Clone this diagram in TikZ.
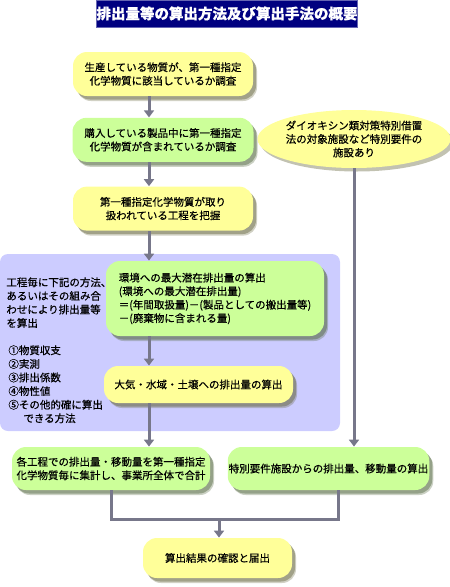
\documentclass[tikz,border=0pt]{standalone}
\usepackage{fontspec}
\setmainfont{Noto Sans CJK JP}[FakeBold=0.5]
\usetikzlibrary{positioning,arrows.meta,shapes.geometric,shadows}
\definecolor{titleblue}{HTML}{000080}
\definecolor{boxyellow}{HTML}{FFFF99}
\definecolor{boxgreen}{HTML}{CCFF99}
\definecolor{panelblue}{HTML}{CCCCFF}
\definecolor{arrowgray}{HTML}{77778A}
\begin{document}
\begin{tikzpicture}[auto, thick, x=1pt, y=-1pt]
% Definition of blocks:
\tikzset{%
  title/.style       = {fill=titleblue, draw=titleblue!60!white, text=white, font=\fontsize{14.5}{16}\selectfont\bfseries, minimum width=248pt, minimum height=27pt, inner sep=0pt},
  block/.style       = {rectangle, rounded corners=14pt, align=center, inner sep=1pt, font=\fontsize{10.5}{13.5}\selectfont},
  yellowblock/.style = {block, fill=boxyellow, drop shadow={shadow xshift=4pt, shadow yshift=-5pt, fill=boxyellow!40!black, opacity=.3}, drop shadow={shadow xshift=3pt, shadow yshift=-3.5pt, fill=boxyellow!40!black, opacity=.45}},
  greenblock/.style  = {block, fill=boxgreen, drop shadow={shadow xshift=4pt, shadow yshift=-5pt, fill=boxgreen!40!black, opacity=.3}, drop shadow={shadow xshift=3pt, shadow yshift=-3.5pt, fill=boxgreen!40!black, opacity=.45}},
  bubble/.style      = {ellipse, fill=boxyellow, inner sep=0pt, align=center, font=\fontsize{10.5}{13.5}\selectfont, minimum width=162pt, minimum height=58pt, drop shadow={shadow xshift=3pt, shadow yshift=-3.5pt, fill=boxyellow!40!black, opacity=.4}},
  panel/.style       = {rectangle, fill=panelblue, rounded corners=8pt, minimum width=340pt, minimum height=177pt},
  note/.style        = {align=left, inner sep=0pt, anchor=north west, font=\fontsize{10.5}{13.6}\selectfont},
  line/.style        = {draw=arrowgray, line width=3pt},
  arrow/.style       = {line, -{Triangle[width=10pt,length=7pt]}}
}
\useasboundingbox (0,0) rectangle (450,587);

\draw
	node [title] (Title) at (227,13.5) {排出量等の算出方法及び算出手法の概要}
	node [yellowblock, minimum width=180pt, minimum height=44pt] (Survey) at (163,74) {生産している物質が、第一種指定\\化学物質に該当しているか調査}
	node [greenblock, minimum width=181pt, minimum height=44pt, below = 21pt of Survey] (Purchase) {購入している製品中に第一種指定\\化学物質が含まれているか調査}
	node [yellowblock, minimum width=180pt, minimum height=44pt, below = 24pt of Purchase] (Process) {第一種指定化学物質が取り\\扱われている工程を把握}
	node [bubble] (Dioxin) at (354,139) {ダイオキシン類対策特別借置\\法の対象施設など特別要件の\\施設あり};

\draw
	node [panel] (Panel) at (170,342.5) {}
	node [note] (Method) at (6,277) {工程毎に下記の方法、\\あるいはその組み合\\わせにより排出量等\\を算出}
	node [note] (List) at (8,345) {①物質収支\\②実測\\③排出係数\\④物性値\\⑤その他的確に算出\\\hspace*{15pt}できる方法}
	node [greenblock, align=left, minimum width=218pt, minimum height=75pt] (MaxRelease) at (215,298.5) {環境への最大潜在排出量の算出\\(環境への最大潜在排出量)\\＝(年間取扱量)－(製品としての搬出量等)\\－(廃棄物に含まれる量)}
	node [yellowblock, minimum width=189pt, minimum height=37pt] (Release) at (198.5,384.5) {大気・水域・土壌への排出量の算出};

\draw
	node [greenblock, minimum width=198pt, minimum height=43pt] (Total) at (111,468.5) {各工程での排出量・移動量を第一種指定\\化学物質毎に集計し、事業所全体で合計}
	node [greenblock, minimum width=201pt, minimum height=43pt] (Special) at (328.5,468.5) {特別要件施設からの排出量、移動量の算出}
	node [yellowblock, minimum width=149pt, minimum height=40pt] (Report) at (217.5,558) {算出結果の確認と届出};

\coordinate (Spine) at (149,0);
\coordinate (Merge) at (219,519);
\coordinate (Temp1) at (338,0);

\draw[arrow](Survey.south -| Spine) -- (Purchase.north -| Spine);
\draw[arrow](Purchase.south -| Spine) -- (Process.north -| Spine);
\draw[arrow](Process.south -| Spine) -- (MaxRelease.north -| Spine);
\draw[arrow](MaxRelease.south -| Spine) -- (Release.north -| Spine);
\draw[arrow](Release.south -| Spine) -- (Total.north -| Spine);
\draw[arrow](Dioxin.south) -- (Dioxin.south |- Special.north);
\draw[line](Total.south) |- (Merge) -| (Special.south -| Temp1);
\draw[arrow](Merge) -- (Merge |- Report.north);

\end{tikzpicture}
\end{document}
